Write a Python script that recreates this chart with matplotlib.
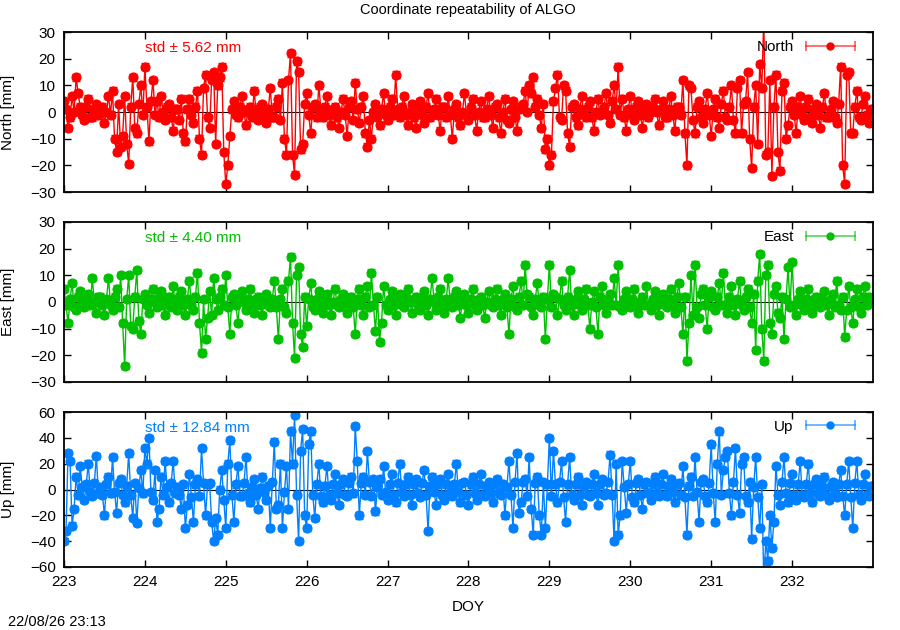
import numpy as np
import matplotlib
matplotlib.use("Agg")
import matplotlib.pyplot as plt
from matplotlib.legend_handler import HandlerBase
from matplotlib.lines import Line2D

plt.rcParams['font.family'] = ['Liberation Sans', 'DejaVu Sans']

# epochs: day of year; "a" values sit on 223.000 + 0.05*i,
# "b" values on the half step in between (223.025 + 0.05*i)
doy_start = 223.0
doy_step = 0.05

# North residuals [mm]
north_a = [4, -6, 6, 13, 2, -3, 5, -2, 3, 0, -4, 6, 8, -15, -13, 6, -19.5, 13, -8, 10,
           17, -11, 12, 4, 6, -3, 3, -7, 1, 5, -11, 5, -4, 8, -16, 14, -6, 15, 10, 17,
           -27, -9, 4, -2, 6, -5, 2, 8, -3, 3, -4, 9, -2, 5, 11, -16, 22, -23.5, 15, -12,
           7, -8, 3, 10, -2, 6, -5, 2, -6, 5, -9, 4, 11, -4, 6, -13, -10, 3, -5, 7,
           -3, 5, 14, -2, 6, -5, 3, -6, 4, -4, 7, -1, 5, -7, 2, 6, -10, 3, -5, 7,
           -3, 5, -7, 4, -2, 6, -6, 3, -8, 5, -4, 4, -7, 2, 8, 10, 13, 5, -6, -14,
           -20, 4, 14, -3, 8, -13, 3, -5, 6, -2, 4, -7, 5, 0, 7, -4, 10, 17, 5, -7,
           6, -3, 4, -6, 3, 0, 5, -5, 4, -2, 6, -7, 2, 12, -20, 9, -8, 4, -4, 7,
           -9, 5, -6, 8, -3, 10, -8, 12, 3, 15, -21, 10, 18, 35, -15, -24, 14, -22, 11, -5,
           4, -8, 6, -3, 5, -4, 3, -6, 7, -2, 4, -4, 17, -27, 15, -8, 8, -3, 6, -4]
north_b = [1, -2, 0, 7, -1, 2, -2, 1, -1, 2, 0, -1, -10, 3, -9, -12, 2, -6, 3, -1,
           2, 4, -1, -2, 0, 2, -2, 1, -3, -8, 1, -1, 2, -10, 9, -2, 12, -12, 13, -15,
           -20, 1, -1, 2, 0, 1, -2, 0, 2, -1, 1, -2, 2, -3, -10, 12, -16, 19, -14, 3,
           -1, 2, -2, 1, 2, -1, 1, -2, 0, -1, 2, -3, 1, 2, -8, -3, 0, -2, 1, -1,
           2, -1, 1, 2, -1, 0, -2, 1, -1, 2, -2, 1, -1, 2, -2, -1, 1, -2, 0, -1,
           2, -1, 0, -2, 1, -1, 2, -2, 0, -3, 1, -2, 1, 3, 0, 7, 2, -1, 3, -10,
           -16, 9, -2, 10, -8, 2, -2, 1, -1, 2, -2, 0, -1, 2, -1, 4, 1, -1, -2, 1,
           -1, 2, -1, 1, -2, 2, 0, 1, -2, 1, -1, 2, -1, -8, 10, -3, 2, -2, 1, -1,
           1, -2, 3, -2, 2, -3, 9, -8, 4, -10, 2, -12, 9, -16, 12, 2, -15, 8, -10, 2,
           -1, 2, -1, 2, -2, 1, -1, 2, -2, 1, -2, 3, -20, 14, -8, 2, -2, 3, -1, 1]

# East residuals [mm]
east_a = [5, -8, 7, -3, 4, -2, 3, 9, -4, 2, -5, 9, -3, 5, 10, -24, 10, -10, 12, -12,
          3, -4, 5, -2, 4, -5, 2, 6, -3, 4, -5, 8, -3, 11, -19, -14, 4, 9, -3, 5,
          10, -12, 3, -8, 4, -3, 5, -4, 2, -5, 3, -2, 8, -14, 5, -4, 17, -21, 13, -17,
          -9, 7, -3, 4, -4, 3, -5, 5, -2, 3, -4, 2, -12, 5, -5, 6, 11, -11, -15, 6,
          -3, 4, -5, 3, -2, 5, -4, 2, -3, 4, -5, 9, -3, 5, -4, 9, -2, 4, -6, 3,
          -4, 5, -3, 2, -6, 4, -2, 5, -5, 3, -12, 6, -3, 8, 14, 2, -5, 7, -2, -14,
          14, 3, -5, 8, -3, 12, -5, 4, -3, 5, -10, 4, -12, 6, -4, 3, 9, 14, -3, 4,
          -2, 5, -4, 2, 6, -3, 4, -5, 3, -2, 5, -4, 7, -12, -22, 10, 14, -6, 5, -10,
          4, -3, 7, 11, -4, 6, -5, 8, -3, 5, -8, -18, 18, -22, 14, -12, 6, -6, -14, 13,
          15, -5, 4, -3, 5, -4, 2, -2, 4, -5, 3, 8, -3, -13, 6, -8, 5, -4, 6, 2]
east_b = [-1, 1, -2, 2, -1, 1, -1, 0, 2, -1, 1, -1, 2, -2, -8, 1, -9, 2, -7, 1,
          -1, 1, 0, 2, -1, 1, -2, -1, 2, -1, 1, -1, 2, -8, 1, -6, -5, 1, 2, -1,
          -2, 2, -1, 1, 0, 1, -1, 1, -1, 2, -1, 1, -2, 1, -2, 8, -8, 10, -12, 2,
          1, -2, 1, -1, 1, -1, 0, -1, 1, -2, 1, -2, 1, -1, 2, -2, -1, 2, -8, -1,
          1, -1, 1, -1, 2, 0, 1, -1, 1, -1, 1, 0, 2, -1, 1, -1, 2, -1, 1, -1,
          1, -1, 1, -1, 0, -1, 1, -1, 1, -2, 1, -2, 2, -1, 3, -2, 1, -1, 2, 1,
          -2, 2, 1, -1, 2, -1, 1, -1, 1, -1, 0, -2, 2, -1, 1, -1, -1, -2, 1, -1,
          1, -1, 0, -1, -1, 1, -1, 1, -1, 1, -1, 2, -2, 2, -8, -5, -2, 3, -1, 2,
          -2, 2, -1, -1, 2, -1, 1, -1, 2, -2, 3, 8, -10, 10, -8, 3, -4, 2, 1, -2,
          -1, 1, -1, 1, -1, 1, -1, 1, -1, 1, -2, -1, 2, -3, -2, 1, -2, 2, -1, 1]

# Up residuals [mm]
up_a = [-40, 28, -28, 10, 18, -8, 20, -5, 26, 2, -20, 10, 25, -18, 8, -10, 28, -22, -26, 15,
        32, 40, -8, -25, 10, 22, -10, 22, 2, -15, -30, 12, -25, 8, 32, -20, 5, -40, -35, 15,
        -30, 38, -25, 18, -5, 25, -10, 8, -15, 10, -8, -30, 37, -12, -30, 18, 45, 58, -40, 47,
        -30, 45, -22, 20, -10, 18, -8, 12, -12, 8, -5, 10, 49, -20, 10, 30, -5, -17, 8, 18,
        -8, 12, -10, 20, -5, 10, -12, 8, -6, 15, -32, 10, -12, 8, -8, 12, -5, 20, -10, 6,
        -12, 10, -8, 12, -5, 6, -10, 8, -4, -20, 22, -30, 28, -10, 8, 25, -35, 10, -35, -30,
        40, 30, -10, 22, -25, 25, -8, 10, -12, 6, -5, 12, -12, 8, -3, 27, -40, -35, 22, -18,
        22, -10, 8, -15, 6, -8, 10, -5, 12, -5, 8, -10, 5, 18, -35, 10, 25, -25, 8, -10,
        35, -25, 45, 15, 30, -20, 32, -18, 25, -10, -38, 25, -30, -70, -55, -45, 18, -12, 25, -10,
        12, -8, 22, -6, 20, -10, 8, -5, 10, -8, 6, -6, 15, -20, 22, -30, 22, -8, 12, -5]
up_b = [-32, 22, -15, -4, 2, 4, -2, 5, -3, -4, 4, -3, -2, 5, -4, 3, -4, 5, 1, -3,
        20, -2, 15, -15, -4, 2, 5, -3, -4, 4, -12, -6, 4, -5, 5, 4, -25, -22, 0, -8,
        20, -4, 4, -5, 5, -3, 2, -4, 1, -2, 3, 6, -15, 20, -2, -15, 20, -4, 30, -20,
        35, -4, 4, -5, 3, -4, 4, -3, 4, -4, 5, -3, 22, 5, -4, 6, 8, 2, -4, -2,
        4, -4, 5, -2, 4, -4, 4, -3, 5, -4, 3, -2, 4, -4, 4, -3, 4, -2, 5, -4,
        4, -3, 4, -4, 3, -3, 4, -3, 4, 2, -4, 6, -18, 6, -5, -15, 5, -20, 6, 4,
        -5, 4, 6, -6, 4, -4, 4, -4, 3, -4, 4, -3, 4, -4, 6, -4, 20, -20, 2, 4,
        -6, 5, -4, 4, -3, 4, -3, 4, -4, 3, -2, 4, -4, -6, 3, -5, -2, 6, -5, 5,
        -3, 20, -4, 25, -3, 6, -4, 20, -5, 6, 2, -6, 4, -40, -20, -25, -4, 6, -3, 5,
        -4, 4, -4, 4, -3, 4, -3, 3, -4, 3, -3, 4, -5, 4, -6, 5, -4, 4, -4, 3]

components = ['North', 'East', 'Up']
series = [(north_a, north_b), (east_a, east_b), (up_a, up_b)]
stds = ['5.62', '4.40', '12.84']
colors = ['#ff0000', '#00c000', '#0080ff']
err = [1.2, 1.2, 2.5]
ylims = [(-30, 30), (-30, 30), (-60, 60)]
ysteps = [10, 10, 20]


# legend key drawn like gnuplot: line with end caps and a dot in the middle
class ErrbarKey(HandlerBase):
    def create_artists(self, legend, orig, xdescent, ydescent, width, height,
                       fontsize, trans):
        c = orig.get_color()
        y = height / 2 - ydescent
        x0, x1 = -xdescent, width - xdescent
        line = Line2D([x0, x1], [y, y], color=c, alpha=0.6, lw=1.3)
        caps = Line2D([x0, x1], [y, y], ls='none', marker='|', ms=7,
                      mew=1.3, color=c, alpha=0.6)
        dot = Line2D([(x0 + x1) / 2], [y], ls='none', marker='o', ms=5, color=c)
        for a in (line, caps, dot):
            a.set_transform(trans)
        return [line, caps, dot]


fig = plt.figure(figsize=(9, 6.3), dpi=100)

# panel boxes in figure fractions (left, bottom, width, height)
boxes = [(0.0711, 0.6952, 0.8989, 0.254),
         (0.0711, 0.3937, 0.8989, 0.254),
         (0.0711, 0.1000, 0.8989, 0.246)]

for k in range(3):
    ax = fig.add_axes(boxes[k])
    a, b = series[k]
    # interleave the two half-step sets into one time-ordered series
    vals = np.column_stack((a, b)).ravel().astype(float)
    t = doy_start + doy_step / 2 * np.arange(len(vals))

    ax.axhline(0, color='black', lw=0.8, zorder=1)
    ax.errorbar(t, vals, yerr=err[k], color=colors[k], lw=1.0, marker='o', ms=6.3,
                mec=colors[k], elinewidth=1.0, capsize=3, zorder=2)

    lo, hi = ylims[k]
    ax.set_ylim(lo, hi)
    ax.set_yticks(np.arange(lo, hi + 1, ysteps[k]))
    ax.set_xlim(223, 233)
    ax.set_xticks(np.arange(223, 233))
    ax.tick_params(direction='in', top=True, right=True, length=5, width=1,
                   labelsize=11, pad=6)
    for s in ax.spines.values():
        s.set_linewidth(1.3)
    if k < 2:
        ax.tick_params(labelbottom=False)
    else:
        ax.set_xlabel('DOY', fontsize=11, labelpad=8)

    ax.set_ylabel(components[k] + ' [mm]', fontsize=11)
    ax.yaxis.set_label_coords(-0.06, 0.5)

    ax.text(0.10, 0.90, 'std \u00b1 ' + stds[k] + ' mm', transform=ax.transAxes,
            color=colors[k], fontsize=11, va='center', ha='left')

    key = Line2D([], [], color=colors[k])
    ax.legend([key], [components[k]], handler_map={Line2D: ErrbarKey()},
              loc='center right', bbox_to_anchor=(0.985, 0.905), frameon=False,
              markerfirst=False, handlelength=3.2, handletextpad=0.8,
              fontsize=11, borderaxespad=0)

fig.text(0.52, 0.984, 'Coordinate repeatability of ALGO', ha='center', va='center',
         fontsize=10.5)
fig.text(0.009, 0.013, '22/08/26 23:13', ha='left', va='center', fontsize=10.5)

fig.savefig('out.png', dpi=100)
